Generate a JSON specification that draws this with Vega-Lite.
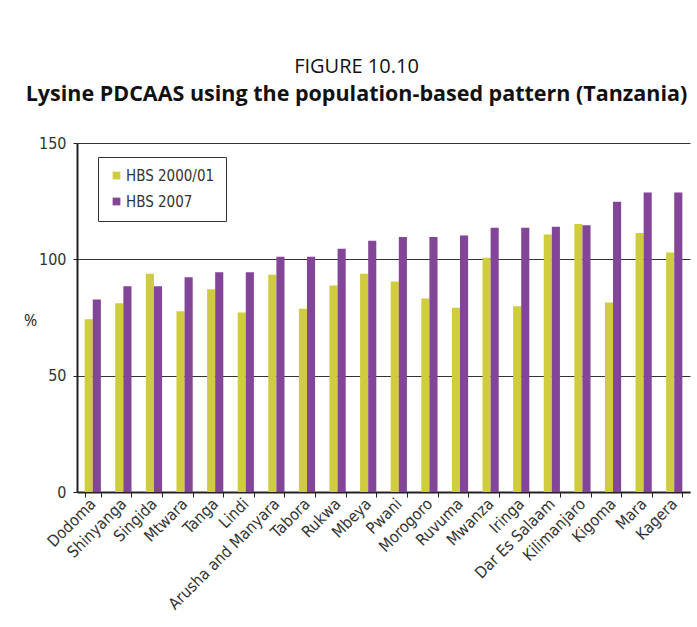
{
  "$schema": "https://vega.github.io/schema/vega-lite/v6.json",
  "width": 613,
  "height": 349,
  "autosize": {"type": "none"},
  "padding": {"left": 77, "top": 143, "right": 7, "bottom": 135},
  "background": "white",
  "title": {
    "text": "FIGURE 10.10",
    "subtitle": "Lysine PDCAAS using the population-based pattern (Tanzania)",
    "anchor": "middle",
    "dx": -27,
    "offset": 30,
    "font": "Open Sans",
    "fontSize": 20,
    "fontWeight": "normal",
    "color": "#111",
    "subtitleFont": "Open Sans",
    "subtitleFontSize": 21.5,
    "subtitleFontWeight": "bold",
    "subtitleColor": "#111",
    "subtitlePadding": 7
  },
  "data": {
    "values": [
      {"region": "Dodoma", "survey": "HBS 2000/01", "value": 74.2},
      {"region": "Dodoma", "survey": "HBS 2007", "value": 82.7},
      {"region": "Shinyanga", "survey": "HBS 2000/01", "value": 81.1},
      {"region": "Shinyanga", "survey": "HBS 2007", "value": 88.4},
      {"region": "Singida", "survey": "HBS 2000/01", "value": 93.8},
      {"region": "Singida", "survey": "HBS 2007", "value": 88.4},
      {"region": "Mtwara", "survey": "HBS 2000/01", "value": 77.7},
      {"region": "Mtwara", "survey": "HBS 2007", "value": 92.3},
      {"region": "Tanga", "survey": "HBS 2000/01", "value": 87.1},
      {"region": "Tanga", "survey": "HBS 2007", "value": 94.4},
      {"region": "Lindi", "survey": "HBS 2000/01", "value": 77.1},
      {"region": "Lindi", "survey": "HBS 2007", "value": 94.4},
      {"region": "Arusha and Manyara", "survey": "HBS 2000/01", "value": 93.4},
      {"region": "Arusha and Manyara", "survey": "HBS 2007", "value": 101.1},
      {"region": "Tabora", "survey": "HBS 2000/01", "value": 78.8},
      {"region": "Tabora", "survey": "HBS 2007", "value": 101.1},
      {"region": "Rukwa", "survey": "HBS 2000/01", "value": 88.8},
      {"region": "Rukwa", "survey": "HBS 2007", "value": 104.6},
      {"region": "Mbeya", "survey": "HBS 2000/01", "value": 93.8},
      {"region": "Mbeya", "survey": "HBS 2007", "value": 108.0},
      {"region": "Pwani", "survey": "HBS 2000/01", "value": 90.5},
      {"region": "Pwani", "survey": "HBS 2007", "value": 109.6},
      {"region": "Morogoro", "survey": "HBS 2000/01", "value": 83.2},
      {"region": "Morogoro", "survey": "HBS 2007", "value": 109.6},
      {"region": "Ruvuma", "survey": "HBS 2000/01", "value": 79.2},
      {"region": "Ruvuma", "survey": "HBS 2007", "value": 110.2},
      {"region": "Mwanza", "survey": "HBS 2000/01", "value": 100.7},
      {"region": "Mwanza", "survey": "HBS 2007", "value": 113.6},
      {"region": "Iringa", "survey": "HBS 2000/01", "value": 79.8},
      {"region": "Iringa", "survey": "HBS 2007", "value": 113.6},
      {"region": "Dar Es Salaam", "survey": "HBS 2000/01", "value": 110.7},
      {"region": "Dar Es Salaam", "survey": "HBS 2007", "value": 114.0},
      {"region": "Kilimanjaro", "survey": "HBS 2000/01", "value": 115.2},
      {"region": "Kilimanjaro", "survey": "HBS 2007", "value": 114.6},
      {"region": "Kigoma", "survey": "HBS 2000/01", "value": 81.5},
      {"region": "Kigoma", "survey": "HBS 2007", "value": 124.8},
      {"region": "Mara", "survey": "HBS 2000/01", "value": 111.3},
      {"region": "Mara", "survey": "HBS 2007", "value": 128.7},
      {"region": "Kagera", "survey": "HBS 2000/01", "value": 102.9},
      {"region": "Kagera", "survey": "HBS 2007", "value": 128.7}
    ]
  },
  "mark": {"type": "bar"},
  "encoding": {
    "x": {
      "field": "region",
      "type": "nominal",
      "sort": null,
      "scale": {"paddingInner": 0.47, "paddingOuter": 0.25},
      "axis": {
        "title": null,
        "labelAngle": -45,
        "labelAlign": "right",
        "labelBaseline": "middle",
        "labelFont": "'DejaVu Sans Condensed', 'Liberation Sans', sans-serif",
        "labelFontSize": 16,
        "labelColor": "#333",
        "labelPadding": 4,
        "tickBand": "extent",
        "tickSize": 5,
        "tickColor": "#222",
        "domainColor": "#222",
        "domainWidth": 2,
        "grid": false
      }
    },
    "xOffset": {"field": "survey", "type": "nominal", "scale": {"paddingInner": 0}},
    "y": {
      "field": "value",
      "type": "quantitative",
      "scale": {"domain": [0, 150]},
      "axis": {
        "title": "%",
        "titleAngle": 0,
        "titleX": -47,
        "titleY": 177,
        "titleAlign": "center",
        "titleBaseline": "middle",
        "titleFont": "Open Sans",
        "titleFontSize": 16,
        "titleFontWeight": "normal",
        "titleColor": "#222",
        "values": [0, 50, 100, 150],
        "labelFont": "'DejaVu Sans Condensed', 'Liberation Sans', sans-serif",
        "labelFontSize": 16,
        "labelColor": "#333",
        "labelPadding": 7,
        "tickSize": 4,
        "tickColor": "#222",
        "domainColor": "#222",
        "domainWidth": 2,
        "grid": true,
        "gridColor": "#333",
        "gridWidth": 1
      }
    },
    "color": {
      "field": "survey",
      "type": "nominal",
      "scale": {"domain": ["HBS 2000/01", "HBS 2007"], "range": ["#cfcc3e", "#834597"]},
      "legend": {
        "title": null,
        "orient": "none",
        "legendX": 21,
        "legendY": 14,
        "direction": "vertical",
        "symbolType": "square",
        "symbolSize": 60,
        "symbolStrokeWidth": 0,
        "labelFont": "'DejaVu Sans Condensed', 'Liberation Sans', sans-serif",
        "labelFontSize": 15,
        "labelColor": "#333",
        "labelOffset": 2,
        "rowPadding": 10,
        "padding": 11,
        "strokeColor": "#333",
        "fillColor": "white"
      }
    }
  },
  "config": {
    "view": {"stroke": null}
  }
}
